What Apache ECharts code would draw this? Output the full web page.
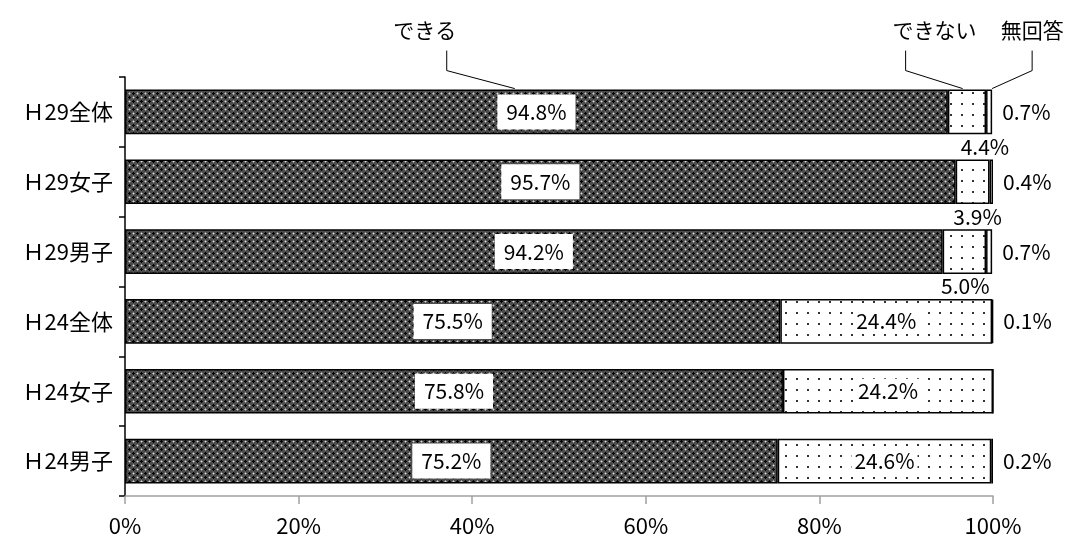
<!DOCTYPE html>
<html>
<head>
<meta charset="utf-8">
<script src="https://cdn.jsdelivr.net/npm/echarts@6/dist/echarts.min.js"></script>
<style>
  html, body { margin: 0; padding: 0; background: #fff; }
  #chart { width: 1070px; height: 541px; }
</style>
</head>
<body>
<div id="chart"></div>
<script>
// Rows, top to bottom
const categories = ['Ｈ29全体', 'Ｈ29女子', 'Ｈ29男子', 'Ｈ24全体', 'Ｈ24女子', 'Ｈ24男子'];
const seriesNames = ['できる', 'できない', '無回答'];
const canDo = [94.8, 95.7, 94.2, 75.5, 75.8, 75.2];
const cannotDo = [4.4, 3.9, 5.0, 24.4, 24.2, 24.6];
const noAnswer = [0.7, 0.4, 0.7, 0.1, 0, 0.2];
const xTicks = [0, 20, 40, 60, 80, 100];

const FONT = '"Noto Sans CJK JP", "Noto Sans", sans-serif';

// Gray lattice of black crosses with light specks
function darkPattern() {
  const c = document.createElement('canvas');
  c.width = 8; c.height = 8;
  const g = c.getContext('2d');
  g.fillStyle = '#4c4c4c';
  g.fillRect(0, 0, 8, 8);
  g.fillStyle = '#000';
  [[1, 1], [5, 5]].forEach(([x, y]) => {
    g.fillRect(x - 1, y, 3, 1);
    g.fillRect(x, y - 1, 1, 3);
  });
  g.fillStyle = '#dcdcdc';
  g.fillRect(5, 1, 1, 1);
  g.fillRect(1, 5, 1, 1);
  g.fillStyle = '#8e8e8e';
  [[4, 1], [6, 1], [5, 0], [5, 2], [0, 5], [2, 5], [1, 4], [1, 6]].forEach(([x, y]) => g.fillRect(x, y, 1, 1));
  return c;
}

// Sparse dotted fill
function dotPattern() {
  const c = document.createElement('canvas');
  c.width = 11; c.height = 11;
  const g = c.getContext('2d');
  g.fillStyle = '#ffffff';
  g.fillRect(0, 0, 11, 11);
  g.fillStyle = '#333';
  g.fillRect(4, 4, 2, 2);
  return c;
}

// Label placement for the small "できない" values under the bars
const smallLabelShift = [18, 5, 1];

const chart = echarts.init(document.getElementById('chart'), null, { renderer: 'canvas' });

const labelFont = {
  fontFamily: FONT, fontSize: 21, color: '#000',
  borderWidth: 0, borderColor: 'transparent', textBorderWidth: 0, textBorderColor: 'transparent'
};

const canDoData = canDo.map(v => ({ value: v }));
const cannotData = cannotDo.map((v, i) => {
  if (v < 10) {
    return {
      value: v,
      label: { show: true, position: 'bottom', distance: 2, offset: [smallLabelShift[i] || 0, 0], backgroundColor: 'transparent', padding: 0 }
    };
  }
  return { value: v };
});
const noAnsData = noAnswer.map(v => ({ value: v, label: { show: v > 0 } }));

chart.setOption({
  animation: false,
  backgroundColor: '#fff',
  grid: { left: 125, right: 77, top: 77, bottom: 45, containLabel: false },
  xAxis: {
    type: 'value',
    min: xTicks[0],
    max: xTicks[xTicks.length - 1],
    interval: 20,
    axisLine: { show: true, lineStyle: { color: '#a0a0a0', width: 1.5 } },
    axisTick: { show: true, length: 8, lineStyle: { color: '#a0a0a0', width: 1.5 } },
    splitLine: { show: false },
    axisLabel: { formatter: '{value}%', margin: 19, fontFamily: FONT, fontSize: 22, color: '#000' }
  },
  yAxis: {
    type: 'category',
    data: categories,
    inverse: true,
    axisLine: { show: true, lineStyle: { color: '#000', width: 1.5 } },
    axisTick: { show: true, length: 6, lineStyle: { color: '#000', width: 1.5 } },
    axisLabel: { margin: 12, fontFamily: FONT, fontSize: 22, color: '#000' }
  },
  series: [
    {
      name: seriesNames[0], type: 'bar', stack: 'total', barWidth: '64%',
      data: canDoData,
      itemStyle: { color: { image: darkPattern(), repeat: 'repeat' }, borderColor: '#000', borderWidth: 1.5 },
      label: {
        show: true, position: 'inside', formatter: p => p.value.toFixed(1) + '%',
        ...labelFont, backgroundColor: '#fff', padding: [8, 9, 6, 9]
      }
    },
    {
      name: seriesNames[1], type: 'bar', stack: 'total', barWidth: '64%',
      data: cannotData,
      itemStyle: { color: { image: dotPattern(), repeat: 'repeat' }, borderColor: '#000', borderWidth: 1.5 },
      label: {
        show: true, position: 'inside', formatter: p => p.value.toFixed(1) + '%',
        ...labelFont, backgroundColor: '#fff', padding: [2, 3]
      }
    },
    {
      name: seriesNames[2], type: 'bar', stack: 'total', barWidth: '64%',
      data: noAnsData,
      itemStyle: { color: '#fff', borderColor: '#000', borderWidth: 1.5 },
      label: {
        position: 'right', distance: 10, formatter: p => p.value.toFixed(1) + '%',
        ...labelFont
      }
    }
  ]
});

// Series callouts above the first row, anchored to the bar geometry
function drawCallouts() {
  const top = chart.convertToPixel({ gridIndex: 0 }, [0, 0]);
  const rowH = chart.convertToPixel({ gridIndex: 0 }, [0, 1])[1] - top[1];
  const barTop = top[1] - rowH * 0.32;
  const px = v => chart.convertToPixel({ gridIndex: 0 }, [v, 0])[0];

  const anchors = [
    { text: seriesNames[0], target: px(44.9), elbow: px(44.9) - 68, textX: px(44.9) - 90 },
    { text: seriesNames[1], target: px(96.5), elbow: px(96.5) - 57, textX: px(96.5) - 28 },
    { text: seriesNames[2], target: px(99.9), elbow: px(99.9) + 40, textX: px(99.9) + 40 }
  ];
  const elements = [];
  anchors.forEach(a => {
    elements.push({
      type: 'polyline',
      shape: { points: [[a.elbow, barTop - 39], [a.elbow, barTop - 19], [a.target, barTop - 1]] },
      style: { stroke: '#000', lineWidth: 1, fill: null }
    });
    elements.push({
      type: 'text',
      x: a.textX, y: barTop - 60,
      style: { text: a.text, fontFamily: FONT, fontSize: 21, fill: '#000', align: 'center', verticalAlign: 'middle' }
    });
  });
  chart.setOption({ graphic: { elements } });
}
drawCallouts();
</script>
</body>
</html>
